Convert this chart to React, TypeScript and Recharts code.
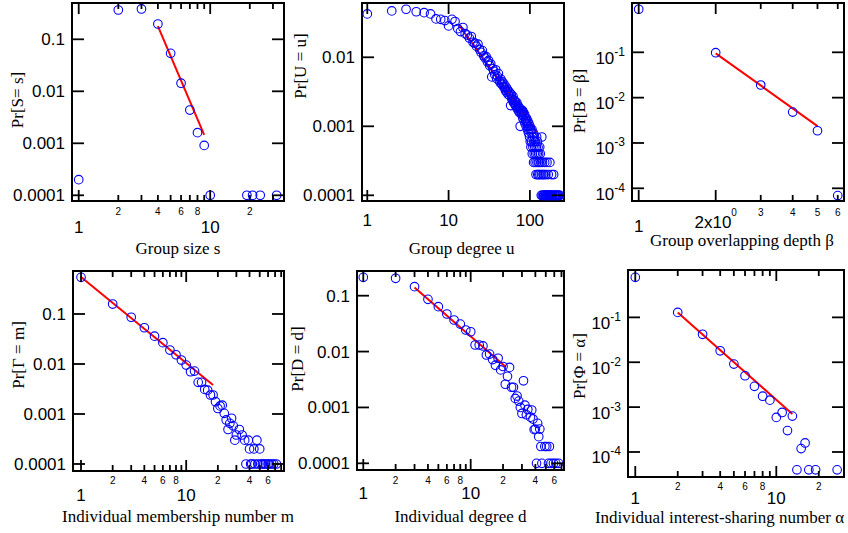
import React from 'react';
import { ScatterChart, Scatter, XAxis, YAxis, ReferenceArea, ReferenceLine } from 'recharts';

const W = 848;
const H = 533;
const SANS = '"Liberation Sans", Arial, Helvetica, sans-serif';
const SERIF = '"Liberation Serif", "Times New Roman", Times, serif';
const DOT = '#0000ff';
const FIT = '#ff0000';

// ---------- Panel 1: group size ----------
const groupSize = [1, 2, 3, 4, 5, 6, 7, 8, 9, 10, 19, 21, 24, 32];
const prGroupSize = [0.0002, 0.366, 0.383, 0.197, 0.0537, 0.0143, 0.00436, 0.0016, 0.00091, 0.0001, 0.0001, 0.0001, 0.0001, 0.0001];
const fitSizeX = [4, 9];
const fitSizeY = [0.18, 0.00145];

// ---------- Panel 2: group degree ----------
const groupDegree = [
  1, 2, 3, 4, 5, 6, 7, 8, 9, 10,
  11, 12, 13, 14, 15, 16, 17, 18, 19, 20,
  21, 22, 23, 24, 25, 26, 27, 28, 29, 30,
  31, 32, 33, 34, 35, 36, 37, 38, 39, 40,
  41, 42, 43, 44, 45, 46, 47, 48, 49, 50,
  51, 52, 53, 54, 55, 56, 57, 58, 59, 60,
  61, 62, 63, 64, 65, 66, 67, 68, 69, 70,
  71, 72, 73, 74, 75, 76, 77, 78, 79, 80,
  81, 82, 83, 84, 85, 86, 87, 88, 89, 90,
  91, 92, 93, 94, 95, 96, 97, 98, 99, 100,
  101, 102, 103, 104, 105, 106, 107, 108, 109, 110,
  111, 112, 113, 114, 115, 116, 117, 118, 119, 120,
  121, 122, 123, 124, 125, 126, 127, 128, 129, 130,
  132, 133, 134, 136, 138, 139, 140, 142, 143, 145,
  146, 148, 149, 151, 152, 154, 156, 157, 159, 161,
  162, 164, 166, 168, 170, 172, 174, 176, 178, 180,
  182, 185, 187, 190, 193, 196, 199, 202, 205, 208,
  212, 216, 220, 224, 229, 234,
];
const prGroupDegree = [
  0.0425, 0.047, 0.0497, 0.0457, 0.0443, 0.0425, 0.036, 0.0355, 0.034, 0.0285,
  0.0355, 0.033, 0.026, 0.0236, 0.027, 0.022, 0.021, 0.019, 0.02, 0.0165,
  0.016, 0.0145, 0.0155, 0.013, 0.0118, 0.0125, 0.0105, 0.0098, 0.0102, 0.0086,
  0.009, 0.0076, 0.008, 0.0052, 0.0068, 0.0063, 0.0056, 0.0066, 0.0049, 0.0053,
  0.0058, 0.0046, 0.0043, 0.0048, 0.0041, 0.0044, 0.0038, 0.0041, 0.0036, 0.0033,
  0.0037, 0.0031, 0.0034, 0.0029, 0.0032, 0.0028, 0.003, 0.002, 0.0029, 0.0025,
  0.0024, 0.0027, 0.0022, 0.0024, 0.0021, 0.0023, 0.002, 0.0019, 0.0022, 0.0018,
  0.002, 0.0017, 0.0019, 0.0016, 0.0018, 0.001, 0.0017, 0.0015, 0.0016, 0.0015,
  0.0017, 0.0013, 0.0016, 0.0014, 0.0012, 0.0015, 0.0011, 0.0013, 0.0012, 0.001,
  0.0013, 0.0011, 0.0009, 0.0012, 0.001, 0.0008, 0.0011, 0.0009, 0.0007, 0.001,
  0.0006, 0.0009, 0.0005, 0.0008, 0.0006, 0.0009, 0.0004, 0.0007, 0.0005, 0.0008,
  0.0003, 0.0006, 0.0004, 0.0007, 0.0005, 0.0003, 0.0006, 0.0004, 0.0002, 0.0005,
  0.0007, 0.0003, 0.0004, 0.0006, 0.0002, 0.0005, 0.0003, 0.0004, 0.0002, 0.0003,
  0.0005, 0.0002, 0.0004, 0.0003, 0.0001, 0.0002, 0.0007, 0.0001, 0.0003, 0.0002,
  0.0001, 0.0001, 0.0002, 0.0001, 0.0003, 0.0001, 0.0001, 0.0002, 0.0001, 0.0001,
  0.0003, 0.0001, 0.0001, 0.0002, 0.0001, 0.0001, 0.0001, 0.0003, 0.0001, 0.0001,
  0.0001, 0.0002, 0.0001, 0.0001, 0.0001, 0.0002, 0.0001, 0.0001, 0.0001, 0.0001,
  0.0001, 0.0001, 0.0001, 0.0001, 0.0001, 0.0001,
];
const fitDegreeX = [13.4, 121];
const fitDegreeY = [0.0294, 0.00083];

// ---------- Panel 3: overlapping depth ----------
const depth = [1, 2, 3, 4, 5, 6];
const prDepth = [0.89, 0.098, 0.019, 0.0048, 0.00186, 0.000069];
const fitDepthX = [2, 5];
const fitDepthY = [0.095, 0.00236];

// ---------- Panel 4: membership number ----------
const membership = [
  1, 2, 3, 4, 5, 6, 7, 8, 9, 10,
  11, 12, 13, 14, 15, 16, 17, 18, 19, 20,
  21, 22, 23, 24, 25, 26, 27, 28, 29, 30,
  32, 34, 36, 37, 39, 40, 41, 42, 44, 45,
  47, 48, 50, 51, 53, 55, 57, 60, 62, 65, 68, 72,
];
const prMembership = [
  0.54, 0.158, 0.086, 0.053, 0.036, 0.0267, 0.019, 0.0153, 0.012, 0.0095,
  0.007, 0.0072, 0.0043, 0.0043, 0.0031, 0.003, 0.0024, 0.0024, 0.00176, 0.00129,
  0.00145, 0.0015, 0.00103, 0.00076, 0.00049, 0.00065, 0.00082, 0.00058, 0.0003, 0.00038,
  0.00049, 0.00038, 0.0003, 0.0001, 0.0003, 0.0002, 0.0001, 0.0001, 0.0002, 0.0001,
  0.0003, 0.0001, 0.0002, 0.0001, 0.0001, 0.0001, 0.0001, 0.0001, 0.0001, 0.0001, 0.0001, 0.0001,
];
const fitMemberX = [1, 18];
const fitMemberY = [0.55, 0.0038];

// ---------- Panel 5: individual degree ----------
const indDegree = [
  1, 2, 3, 4, 5, 6, 7, 8, 9, 10,
  11, 12, 13, 14, 15, 16, 17, 18, 19, 20,
  21, 22, 23, 24, 25, 26, 27, 28, 29, 30,
  31, 32, 33, 34, 36, 37, 38, 39, 40, 41,
  42, 43, 44, 45, 46, 49, 51, 53, 54, 56, 59, 62, 66,
];
const prIndDegree = [
  0.213, 0.205, 0.145, 0.086, 0.0636, 0.047, 0.0367, 0.031, 0.0243, 0.0226,
  0.0131, 0.0131, 0.0126, 0.0087, 0.009, 0.0072, 0.0057, 0.0076, 0.0047, 0.0054,
  0.0026, 0.0036, 0.0052, 0.0023, 0.0023, 0.00145, 0.0016, 0.0013, 0.001, 0.00078,
  0.003, 0.0011, 0.00074, 0.00092, 0.00067, 0.0009, 0.00062, 0.0004, 0.00041, 0.0001,
  0.00052, 0.0003, 0.00041, 0.0002, 0.0001, 0.0002, 0.0002, 0.0001, 0.0002, 0.0001, 0.0001, 0.0001, 0.0001,
];
const fitIndDegX = [3, 21];
const fitIndDegY = [0.14, 0.0054];

// ---------- Panel 6: interest-sharing number ----------
const sharing = [1, 2, 3, 4, 5, 6, 7, 8, 9, 10, 11, 12, 13, 14, 15, 16, 17, 19, 27];
const prSharing = [0.78, 0.129, 0.042, 0.018, 0.0091, 0.005, 0.0029, 0.00175, 0.00143, 0.00059, 0.00076, 0.0003, 0.00063, 0.00004, 0.000119, 0.000159, 0.00004, 0.00004, 0.00004];
const fitShareX = [2, 13];
const fitShareY = [0.129, 0.0007];

// ---------- tick labels ----------
const ticksP1 = [1, 2, 3, 4, 5, 6, 7, 8, 9, 10, 20, 30];
const labelsP1 = ['1', '2', '', '4', '', '6', '', '8', '', '10', '2', ''];
const ticksP2 = [1, 10, 100];
const labelsP2 = ['1', '10', '100'];
const ticksP3 = [1, 2, 3, 4, 5, 6];
const labelsP3 = ['1', '2x10^0', '3', '4', '5', '6'];
const ticksP4 = [1, 2, 3, 4, 5, 6, 7, 8, 9, 10, 20, 30, 40, 50, 60, 70, 80];
const labelsP4 = ['1', '2', '', '4', '', '6', '', '8', '', '10', '2', '', '4', '', '6', '', ''];
const ticksP5 = [1, 2, 3, 4, 5, 6, 7, 8, 9, 10, 20, 30, 40, 50, 60, 70];
const labelsP5 = ['1', '2', '', '4', '', '6', '', '8', '', '10', '2', '', '4', '', '6', ''];
const ticksP6 = [1, 2, 3, 4, 5, 6, 7, 8, 9, 10, 20];
const labelsP6 = ['1', '2', '', '4', '', '6', '', '8', '', '10', '2'];
const yTicksDec = [0.0001, 0.001, 0.01, 0.1];
const yLabelsDec = ['0.0001', '0.001', '0.01', '0.1'];
const yTicksP2 = [0.0001, 0.001, 0.01];
const yLabelsP2 = ['0.0001', '0.001', '0.01'];
const yTicksExp = [0.0001, 0.001, 0.01, 0.1];
const yLabelsExp = ['10^-4', '10^-3', '10^-2', '10^-1'];

type Panel = {
  xs: number[]; ys: number[]; fitX: number[]; fitY: number[];
  xDomain: [number, number]; yDomain: [number, number];
  xTicks: number[]; xLabels: string[]; xMajor: number[];
  yTicks: number[]; yLabels: string[];
  xTitle: string; yTitle: string;
  box: { left: number; right: number; top: number; bottom: number };
  xMajorBase: number; xMinorBase: number; xSupBase?: number;
  xTitlePos: [number, number]; yTitlePos: [number, number];
};

const panels: Panel[] = [
  {
    xs: groupSize, ys: prGroupSize, fitX: fitSizeX, fitY: fitSizeY,
    xDomain: [0.889, 36.4], yDomain: [7.77e-5, 0.499],
    xTicks: ticksP1, xLabels: labelsP1, xMajor: [1, 10],
    yTicks: yTicksDec, yLabels: yLabelsDec,
    xTitle: 'Group size s', yTitle: 'Pr[S= s]',
    box: { left: 72, right: 284, top: 3, bottom: 201 },
    xMajorBase: 232.7, xMinorBase: 215.3,
    xTitlePos: [178, 253.5], yTitlePos: [17, 100],
  },
  {
    xs: groupDegree, ys: prGroupDegree, fitX: fitDegreeX, fitY: fitDegreeY,
    xDomain: [0.861, 262.7], yDomain: [8.27e-5, 0.0612],
    xTicks: ticksP2, xLabels: labelsP2, xMajor: [1, 10, 100],
    yTicks: yTicksP2, yLabels: yLabelsP2,
    xTitle: 'Group degree u', yTitle: 'Pr[U = u]',
    box: { left: 362, right: 564, top: 3, bottom: 201 },
    xMajorBase: 226, xMinorBase: 215,
    xTitlePos: [461.7, 253.5], yTitlePos: [300, 66],
  },
  {
    xs: depth, ys: prDepth, fitX: fitDepthX, fitY: fitDepthY,
    xDomain: [0.9415, 6.348], yDomain: [5.25e-5, 1.224],
    xTicks: ticksP3, xLabels: labelsP3, xMajor: [1, 2],
    yTicks: yTicksExp, yLabels: yLabelsExp,
    xTitle: 'Group overlapping depth β', yTitle: 'Pr[B = β]',
    box: { left: 632, right: 844, top: 3, bottom: 201 },
    xMajorBase: 231.7, xMinorBase: 216, xSupBase: 228.3,
    xTitlePos: [742, 246], yTitlePos: [579, 101],
  },
  {
    xs: membership, ys: prMembership, fitX: fitMemberX, fitY: fitMemberY,
    xDomain: [0.839, 85.1], yDomain: [7.24e-5, 0.724],
    xTicks: ticksP4, xLabels: labelsP4, xMajor: [1, 10],
    yTicks: yTicksDec, yLabels: yLabelsDec,
    xTitle: 'Individual membership number m', yTitle: 'Pr[Γ = m]',
    box: { left: 73, right: 284, top: 271, bottom: 471 },
    xMajorBase: 500.5, xMinorBase: 484,
    xTitlePos: [178, 522], yTitlePos: [18, 355],
  },
  {
    xs: indDegree, ys: prIndDegree, fitX: fitIndDegX, fitY: fitIndDegY,
    xDomain: [0.874, 73.9], yDomain: [7.59e-5, 0.2767],
    xTicks: ticksP5, xLabels: labelsP5, xMajor: [1, 10],
    yTicks: yTicksDec, yLabels: yLabelsDec,
    xTitle: 'Individual degree d', yTitle: 'Pr[D = d]',
    box: { left: 357, right: 564, top: 271, bottom: 470 },
    xMajorBase: 499.3, xMinorBase: 484,
    xTitlePos: [460.5, 521.5], yTitlePos: [297, 359],
  },
  {
    xs: sharing, ys: prSharing, fitX: fitShareX, fitY: fitShareY,
    xDomain: [0.888, 30.2], yDomain: [2.77e-5, 1.137],
    xTicks: ticksP6, xLabels: labelsP6, xMajor: [1, 10],
    yTicks: yTicksExp, yLabels: yLabelsExp,
    xTitle: 'Individual interest-sharing number α', yTitle: 'Pr[Φ = α]',
    box: { left: 628, right: 844, top: 270, bottom: 477 },
    xMajorBase: 503.5, xMinorBase: 489.5,
    xTitlePos: [719.5, 523], yTitlePos: [579, 366],
  },
];

const Ring = (props: any) => {
  if (props.cx == null || props.cy == null) return <g />;
  return <circle cx={props.cx} cy={props.cy} r={4.3} fill="none" stroke={DOT} strokeWidth={1.1} />;
};

const XTitle = (props: any) => (
  <text x={props.px} y={props.py} textAnchor="middle" fontFamily={SERIF} fontSize={17} fill="#000">{props.txt}</text>
);
const YTitle = (props: any) => (
  <text x={props.px} y={props.py} textAnchor="middle" dominantBaseline="central" fontFamily={SERIF} fontSize={17} fill="#000"
    transform={`rotate(-90, ${props.px}, ${props.py})`}>{props.txt}</text>
);

function PanelChart({ p }: { p: Panel }) {
  const data = p.xs.map((x, i) => ({ x, y: p.ys[i] }));
  const b = p.box;
  const XA_H = 30;
  const YA_W = 60;
  const TICK_W = 1.8;

  const xTick = (props: any) => {
    const v = props.payload?.value;
    const x = props.x;
    const i = p.xTicks.indexOf(v);
    const label = i >= 0 ? p.xLabels[i] : '';
    const major = p.xMajor.indexOf(v) >= 0;
    const len = major ? 11 : 6;
    const sup = label.indexOf('^');
    const y = sup >= 0 ? (p.xSupBase ?? p.xMajorBase) : major ? p.xMajorBase : p.xMinorBase;
    return (
      <g>
        <line x1={x} x2={x} y1={b.bottom} y2={b.bottom - len} stroke="#000" strokeWidth={TICK_W} />
        <line x1={x} x2={x} y1={b.top} y2={b.top + len} stroke="#000" strokeWidth={TICK_W} />
        {label !== '' && (
          <text x={x} y={y} textAnchor="middle" fontFamily={SANS} fontSize={major ? 17 : 10} fill="#000">
            {sup >= 0 ? (
              <>
                <tspan>{label.slice(0, sup)}</tspan>
                <tspan fontSize={10} dy={-12}>{label.slice(sup + 1)}</tspan>
              </>
            ) : label}
          </text>
        )}
      </g>
    );
  };

  const yTick = (props: any) => {
    const v = props.payload?.value;
    const y = props.y;
    const i = p.yTicks.indexOf(v);
    const label = i >= 0 ? p.yLabels[i] : '';
    const sup = label.indexOf('^');
    return (
      <g>
        <line x1={b.left} x2={b.left + 12} y1={y} y2={y} stroke="#000" strokeWidth={TICK_W} />
        <line x1={b.right} x2={b.right - 12} y1={y} y2={y} stroke="#000" strokeWidth={TICK_W} />
        <text x={b.left - 7} y={sup >= 0 ? y + 11.5 : y + 6} textAnchor="end" fontFamily={SANS} fontSize={17} fill="#000">
          {sup >= 0 ? (
            <>
              <tspan>{label.slice(0, sup)}</tspan>
              <tspan fontSize={12} dy={-8}>{label.slice(sup + 1)}</tspan>
            </>
          ) : label}
        </text>
      </g>
    );
  };

  return (
    <div style={{ position: 'absolute', left: 0, top: 0 }}>
      <ScatterChart
        width={W}
        height={H}
        margin={{ top: b.top, left: b.left - YA_W, right: W - b.right, bottom: H - b.bottom - XA_H }}
      >
        <XAxis
          dataKey="x" type="number" scale="log" domain={p.xDomain} allowDataOverflow
          ticks={p.xTicks} interval={0} tick={xTick} tickLine={false} axisLine={false} height={XA_H}
          label={<XTitle px={p.xTitlePos[0]} py={p.xTitlePos[1]} txt={p.xTitle} />}
        />
        <YAxis
          dataKey="y" type="number" scale="log" domain={p.yDomain} allowDataOverflow
          ticks={p.yTicks} interval={0} tick={yTick} tickLine={false} axisLine={false} width={YA_W}
          label={<YTitle px={p.yTitlePos[0]} py={p.yTitlePos[1]} txt={p.yTitle} />}
        />
        <Scatter data={data} shape={Ring} isAnimationActive={false} />
        <ReferenceLine
          segment={[{ x: p.fitX[0], y: p.fitY[0] }, { x: p.fitX[1], y: p.fitY[1] }]}
          stroke={FIT} strokeWidth={2}
        />
        <ReferenceArea
          x1={p.xDomain[0]} x2={p.xDomain[1]} y1={p.yDomain[0]} y2={p.yDomain[1]}
          fill="none" fillOpacity={0} stroke="#000" strokeWidth={2}
        />
      </ScatterChart>
    </div>
  );
}

export default function App() {
  return (
    <div style={{ position: 'absolute', left: 0, top: 0, width: W, height: H, background: '#fff', overflow: 'hidden' }}>
      {panels.map((p, i) => (
        <PanelChart key={i} p={p} />
      ))}
    </div>
  );
}
